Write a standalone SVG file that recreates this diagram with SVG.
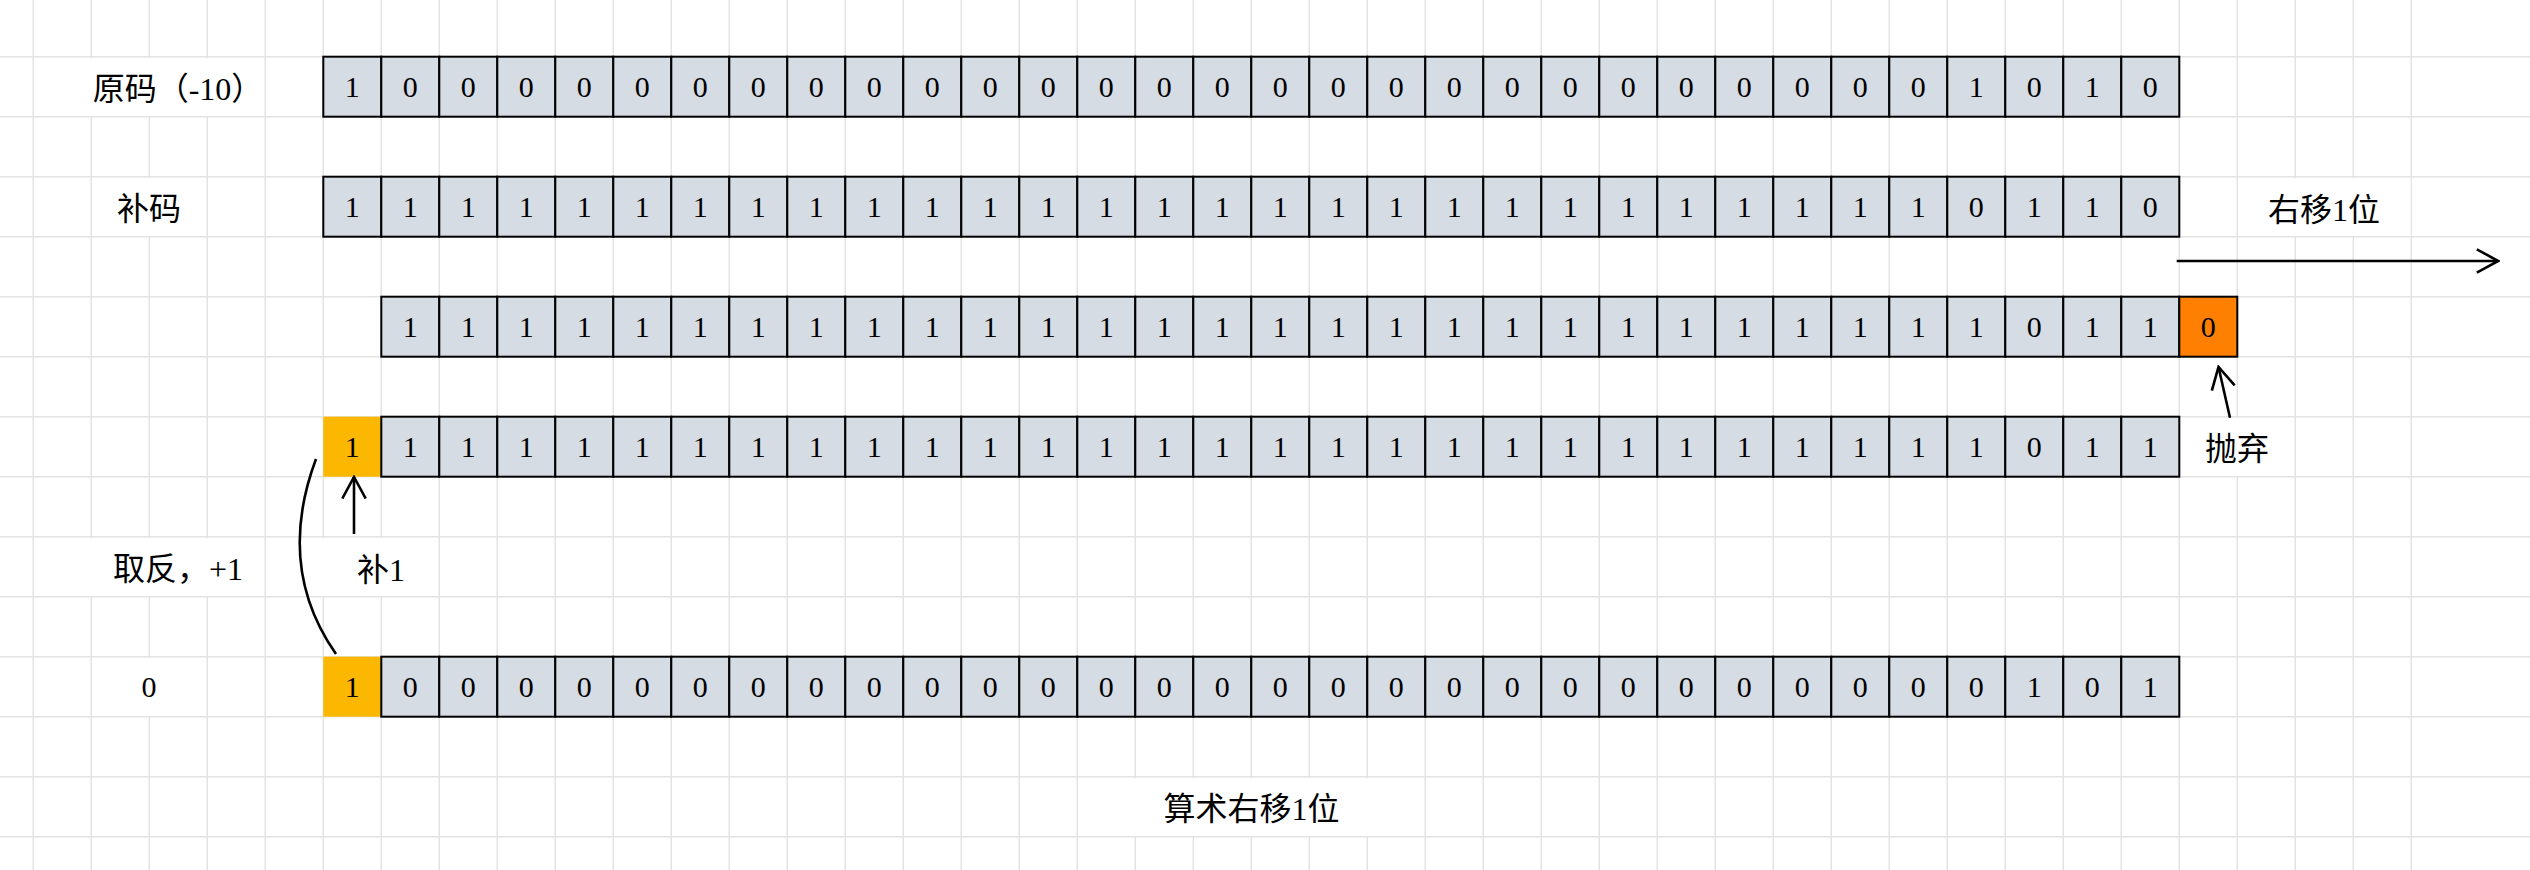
<svg xmlns="http://www.w3.org/2000/svg" width="2530" height="870" viewBox="0 0 2530 870">
<style>
.grid{fill:none;stroke:#e3e3e3;stroke-width:1.5}
.bg{fill:#fff}
.g{width:58px;height:60px;fill:#D6DCE4;stroke:#000;stroke-width:2}
.o{width:58px;height:60px;fill:#FF8000;stroke:#000;stroke-width:2}
.y{width:58px;height:60px;fill:#FCB800;stroke:none}
.d{font-family:"Liberation Serif","Noto Sans CJK SC",serif;font-size:30px;text-anchor:middle;fill:#000}
.l{font-family:"Liberation Serif","Noto Sans CJK SC",serif;font-size:32px;text-anchor:middle;fill:#000}
.ln{fill:none;stroke:#000;stroke-width:2.6}
</style>
<defs>
<marker id="ah" viewBox="0 0 24 26" refX="22" refY="13" markerWidth="24" markerHeight="26" markerUnits="userSpaceOnUse" orient="auto">
<path d="M0.5 1.3L22 13L0.5 24.7" fill="none" stroke="#000" stroke-width="2.6"/>
</marker>
</defs>
<rect x="0" y="0" width="2530" height="870" fill="#fff"/>
<path class="grid" d="M33.3 0v870m58 -870v870m58 -870v870m58 -870v870m58 -870v870m58 -870v870m58 -870v870m58 -870v870m58 -870v870m58 -870v870m58 -870v870m58 -870v870m58 -870v870m58 -870v870m58 -870v870m58 -870v870m58 -870v870m58 -870v870m58 -870v870m58 -870v870m58 -870v870m58 -870v870m58 -870v870m58 -870v870m58 -870v870m58 -870v870m58 -870v870m58 -870v870m58 -870v870m58 -870v870m58 -870v870m58 -870v870m58 -870v870m58 -870v870m58 -870v870m58 -870v870m58 -870v870m58 -870v870m58 -870v870m58 -870v870m58 -870v870m58 -870v870M0 56.7h2530m-2530 60h2530m-2530 60h2530m-2530 60h2530m-2530 60h2530m-2530 60h2530m-2530 60h2530m-2530 60h2530m-2530 60h2530m-2530 60h2530m-2530 60h2530m-2530 60h2530m-2530 60h2530m-2530 60h2530"/>

<g id="labels">
<g id="label-yuanma"><rect class="bg" x="90" y="58" width="174" height="58"/><text class="l" x="178" y="99.5">原码（-10）</text></g>
<g id="label-buma"><rect class="bg" x="92.5" y="178" width="113" height="58"/><text class="l" x="149" y="220">补码</text></g>
<g id="label-shift"><rect class="bg" x="2238.5" y="178" width="172" height="58"/><text class="l" x="2324" y="221">右移1位</text></g>
<g id="label-discard"><rect class="bg" x="2180.5" y="418" width="113.5" height="58"/><text class="l" x="2237" y="459.5">抛弃</text></g>
<g id="label-invert"><rect class="bg" x="90" y="538" width="174" height="58"/><text class="l" x="178" y="580">取反，+1</text></g>
<g id="label-add1"><rect class="bg" x="322" y="538" width="116" height="58"/><text class="l" x="381" y="581">补1</text></g>
<g id="label-zero"><rect class="bg" x="92.5" y="658" width="113" height="58"/><text class="d" x="149" y="696.7">0</text></g>
<g id="label-title"><rect class="bg" x="1078.5" y="778" width="345.5" height="58"/><text class="l" x="1251.5" y="819.5">算术右移1位</text></g>
</g>

<g id="row-yuanma" transform="translate(323.3,56.7)">
<rect class="g" x="0"/><rect class="g" x="58"/><rect class="g" x="116"/><rect class="g" x="174"/><rect class="g" x="232"/><rect class="g" x="290"/><rect class="g" x="348"/><rect class="g" x="406"/><rect class="g" x="464"/><rect class="g" x="522"/><rect class="g" x="580"/><rect class="g" x="638"/><rect class="g" x="696"/><rect class="g" x="754"/><rect class="g" x="812"/><rect class="g" x="870"/><rect class="g" x="928"/><rect class="g" x="986"/><rect class="g" x="1044"/><rect class="g" x="1102"/><rect class="g" x="1160"/><rect class="g" x="1218"/><rect class="g" x="1276"/><rect class="g" x="1334"/><rect class="g" x="1392"/><rect class="g" x="1450"/><rect class="g" x="1508"/><rect class="g" x="1566"/><rect class="g" x="1624"/><rect class="g" x="1682"/><rect class="g" x="1740"/><rect class="g" x="1798"/>
<text class="d" x="29" y="40">1</text><text class="d" x="87" y="40">0</text><text class="d" x="145" y="40">0</text><text class="d" x="203" y="40">0</text><text class="d" x="261" y="40">0</text><text class="d" x="319" y="40">0</text><text class="d" x="377" y="40">0</text><text class="d" x="435" y="40">0</text><text class="d" x="493" y="40">0</text><text class="d" x="551" y="40">0</text><text class="d" x="609" y="40">0</text><text class="d" x="667" y="40">0</text><text class="d" x="725" y="40">0</text><text class="d" x="783" y="40">0</text><text class="d" x="841" y="40">0</text><text class="d" x="899" y="40">0</text><text class="d" x="957" y="40">0</text><text class="d" x="1015" y="40">0</text><text class="d" x="1073" y="40">0</text><text class="d" x="1131" y="40">0</text><text class="d" x="1189" y="40">0</text><text class="d" x="1247" y="40">0</text><text class="d" x="1305" y="40">0</text><text class="d" x="1363" y="40">0</text><text class="d" x="1421" y="40">0</text><text class="d" x="1479" y="40">0</text><text class="d" x="1537" y="40">0</text><text class="d" x="1595" y="40">0</text><text class="d" x="1653" y="40">1</text><text class="d" x="1711" y="40">0</text><text class="d" x="1769" y="40">1</text><text class="d" x="1827" y="40">0</text>
</g>

<g id="row-buma" transform="translate(323.3,176.7)">
<rect class="g" x="0"/><rect class="g" x="58"/><rect class="g" x="116"/><rect class="g" x="174"/><rect class="g" x="232"/><rect class="g" x="290"/><rect class="g" x="348"/><rect class="g" x="406"/><rect class="g" x="464"/><rect class="g" x="522"/><rect class="g" x="580"/><rect class="g" x="638"/><rect class="g" x="696"/><rect class="g" x="754"/><rect class="g" x="812"/><rect class="g" x="870"/><rect class="g" x="928"/><rect class="g" x="986"/><rect class="g" x="1044"/><rect class="g" x="1102"/><rect class="g" x="1160"/><rect class="g" x="1218"/><rect class="g" x="1276"/><rect class="g" x="1334"/><rect class="g" x="1392"/><rect class="g" x="1450"/><rect class="g" x="1508"/><rect class="g" x="1566"/><rect class="g" x="1624"/><rect class="g" x="1682"/><rect class="g" x="1740"/><rect class="g" x="1798"/>
<text class="d" x="29" y="40">1</text><text class="d" x="87" y="40">1</text><text class="d" x="145" y="40">1</text><text class="d" x="203" y="40">1</text><text class="d" x="261" y="40">1</text><text class="d" x="319" y="40">1</text><text class="d" x="377" y="40">1</text><text class="d" x="435" y="40">1</text><text class="d" x="493" y="40">1</text><text class="d" x="551" y="40">1</text><text class="d" x="609" y="40">1</text><text class="d" x="667" y="40">1</text><text class="d" x="725" y="40">1</text><text class="d" x="783" y="40">1</text><text class="d" x="841" y="40">1</text><text class="d" x="899" y="40">1</text><text class="d" x="957" y="40">1</text><text class="d" x="1015" y="40">1</text><text class="d" x="1073" y="40">1</text><text class="d" x="1131" y="40">1</text><text class="d" x="1189" y="40">1</text><text class="d" x="1247" y="40">1</text><text class="d" x="1305" y="40">1</text><text class="d" x="1363" y="40">1</text><text class="d" x="1421" y="40">1</text><text class="d" x="1479" y="40">1</text><text class="d" x="1537" y="40">1</text><text class="d" x="1595" y="40">1</text><text class="d" x="1653" y="40">0</text><text class="d" x="1711" y="40">1</text><text class="d" x="1769" y="40">1</text><text class="d" x="1827" y="40">0</text>
</g>

<g id="row-shifted" transform="translate(381.3,296.7)">
<rect class="g" x="0"/><rect class="g" x="58"/><rect class="g" x="116"/><rect class="g" x="174"/><rect class="g" x="232"/><rect class="g" x="290"/><rect class="g" x="348"/><rect class="g" x="406"/><rect class="g" x="464"/><rect class="g" x="522"/><rect class="g" x="580"/><rect class="g" x="638"/><rect class="g" x="696"/><rect class="g" x="754"/><rect class="g" x="812"/><rect class="g" x="870"/><rect class="g" x="928"/><rect class="g" x="986"/><rect class="g" x="1044"/><rect class="g" x="1102"/><rect class="g" x="1160"/><rect class="g" x="1218"/><rect class="g" x="1276"/><rect class="g" x="1334"/><rect class="g" x="1392"/><rect class="g" x="1450"/><rect class="g" x="1508"/><rect class="g" x="1566"/><rect class="g" x="1624"/><rect class="g" x="1682"/><rect class="g" x="1740"/><rect class="o" x="1798"/>
<text class="d" x="29" y="40">1</text><text class="d" x="87" y="40">1</text><text class="d" x="145" y="40">1</text><text class="d" x="203" y="40">1</text><text class="d" x="261" y="40">1</text><text class="d" x="319" y="40">1</text><text class="d" x="377" y="40">1</text><text class="d" x="435" y="40">1</text><text class="d" x="493" y="40">1</text><text class="d" x="551" y="40">1</text><text class="d" x="609" y="40">1</text><text class="d" x="667" y="40">1</text><text class="d" x="725" y="40">1</text><text class="d" x="783" y="40">1</text><text class="d" x="841" y="40">1</text><text class="d" x="899" y="40">1</text><text class="d" x="957" y="40">1</text><text class="d" x="1015" y="40">1</text><text class="d" x="1073" y="40">1</text><text class="d" x="1131" y="40">1</text><text class="d" x="1189" y="40">1</text><text class="d" x="1247" y="40">1</text><text class="d" x="1305" y="40">1</text><text class="d" x="1363" y="40">1</text><text class="d" x="1421" y="40">1</text><text class="d" x="1479" y="40">1</text><text class="d" x="1537" y="40">1</text><text class="d" x="1595" y="40">1</text><text class="d" x="1653" y="40">0</text><text class="d" x="1711" y="40">1</text><text class="d" x="1769" y="40">1</text><text class="d" x="1827" y="40">0</text>
</g>

<g id="row-filled" transform="translate(323.3,416.7)">
<rect class="y" x="0"/><rect class="g" x="58"/><rect class="g" x="116"/><rect class="g" x="174"/><rect class="g" x="232"/><rect class="g" x="290"/><rect class="g" x="348"/><rect class="g" x="406"/><rect class="g" x="464"/><rect class="g" x="522"/><rect class="g" x="580"/><rect class="g" x="638"/><rect class="g" x="696"/><rect class="g" x="754"/><rect class="g" x="812"/><rect class="g" x="870"/><rect class="g" x="928"/><rect class="g" x="986"/><rect class="g" x="1044"/><rect class="g" x="1102"/><rect class="g" x="1160"/><rect class="g" x="1218"/><rect class="g" x="1276"/><rect class="g" x="1334"/><rect class="g" x="1392"/><rect class="g" x="1450"/><rect class="g" x="1508"/><rect class="g" x="1566"/><rect class="g" x="1624"/><rect class="g" x="1682"/><rect class="g" x="1740"/><rect class="g" x="1798"/>
<text class="d" x="29" y="40">1</text><text class="d" x="87" y="40">1</text><text class="d" x="145" y="40">1</text><text class="d" x="203" y="40">1</text><text class="d" x="261" y="40">1</text><text class="d" x="319" y="40">1</text><text class="d" x="377" y="40">1</text><text class="d" x="435" y="40">1</text><text class="d" x="493" y="40">1</text><text class="d" x="551" y="40">1</text><text class="d" x="609" y="40">1</text><text class="d" x="667" y="40">1</text><text class="d" x="725" y="40">1</text><text class="d" x="783" y="40">1</text><text class="d" x="841" y="40">1</text><text class="d" x="899" y="40">1</text><text class="d" x="957" y="40">1</text><text class="d" x="1015" y="40">1</text><text class="d" x="1073" y="40">1</text><text class="d" x="1131" y="40">1</text><text class="d" x="1189" y="40">1</text><text class="d" x="1247" y="40">1</text><text class="d" x="1305" y="40">1</text><text class="d" x="1363" y="40">1</text><text class="d" x="1421" y="40">1</text><text class="d" x="1479" y="40">1</text><text class="d" x="1537" y="40">1</text><text class="d" x="1595" y="40">1</text><text class="d" x="1653" y="40">1</text><text class="d" x="1711" y="40">0</text><text class="d" x="1769" y="40">1</text><text class="d" x="1827" y="40">1</text>
</g>

<g id="row-result" transform="translate(323.3,656.7)">
<rect class="y" x="0"/><rect class="g" x="58"/><rect class="g" x="116"/><rect class="g" x="174"/><rect class="g" x="232"/><rect class="g" x="290"/><rect class="g" x="348"/><rect class="g" x="406"/><rect class="g" x="464"/><rect class="g" x="522"/><rect class="g" x="580"/><rect class="g" x="638"/><rect class="g" x="696"/><rect class="g" x="754"/><rect class="g" x="812"/><rect class="g" x="870"/><rect class="g" x="928"/><rect class="g" x="986"/><rect class="g" x="1044"/><rect class="g" x="1102"/><rect class="g" x="1160"/><rect class="g" x="1218"/><rect class="g" x="1276"/><rect class="g" x="1334"/><rect class="g" x="1392"/><rect class="g" x="1450"/><rect class="g" x="1508"/><rect class="g" x="1566"/><rect class="g" x="1624"/><rect class="g" x="1682"/><rect class="g" x="1740"/><rect class="g" x="1798"/>
<text class="d" x="29" y="40">1</text><text class="d" x="87" y="40">0</text><text class="d" x="145" y="40">0</text><text class="d" x="203" y="40">0</text><text class="d" x="261" y="40">0</text><text class="d" x="319" y="40">0</text><text class="d" x="377" y="40">0</text><text class="d" x="435" y="40">0</text><text class="d" x="493" y="40">0</text><text class="d" x="551" y="40">0</text><text class="d" x="609" y="40">0</text><text class="d" x="667" y="40">0</text><text class="d" x="725" y="40">0</text><text class="d" x="783" y="40">0</text><text class="d" x="841" y="40">0</text><text class="d" x="899" y="40">0</text><text class="d" x="957" y="40">0</text><text class="d" x="1015" y="40">0</text><text class="d" x="1073" y="40">0</text><text class="d" x="1131" y="40">0</text><text class="d" x="1189" y="40">0</text><text class="d" x="1247" y="40">0</text><text class="d" x="1305" y="40">0</text><text class="d" x="1363" y="40">0</text><text class="d" x="1421" y="40">0</text><text class="d" x="1479" y="40">0</text><text class="d" x="1537" y="40">0</text><text class="d" x="1595" y="40">0</text><text class="d" x="1653" y="40">0</text><text class="d" x="1711" y="40">1</text><text class="d" x="1769" y="40">0</text><text class="d" x="1827" y="40">1</text>
</g>

<g id="connectors">
<path id="arrow-shift" class="ln" d="M2176.7 261H2498.3" marker-end="url(#ah)"/>
<path id="arrow-discard" class="ln" d="M2230 417.7L2218.5 367" marker-end="url(#ah)"/>
<path id="arrow-add1" class="ln" d="M354 534V477" marker-end="url(#ah)"/>
<path id="curve-invert" class="ln" d="M336 654C287 584 295.4 514 316 459"/>
</g>
</svg>
